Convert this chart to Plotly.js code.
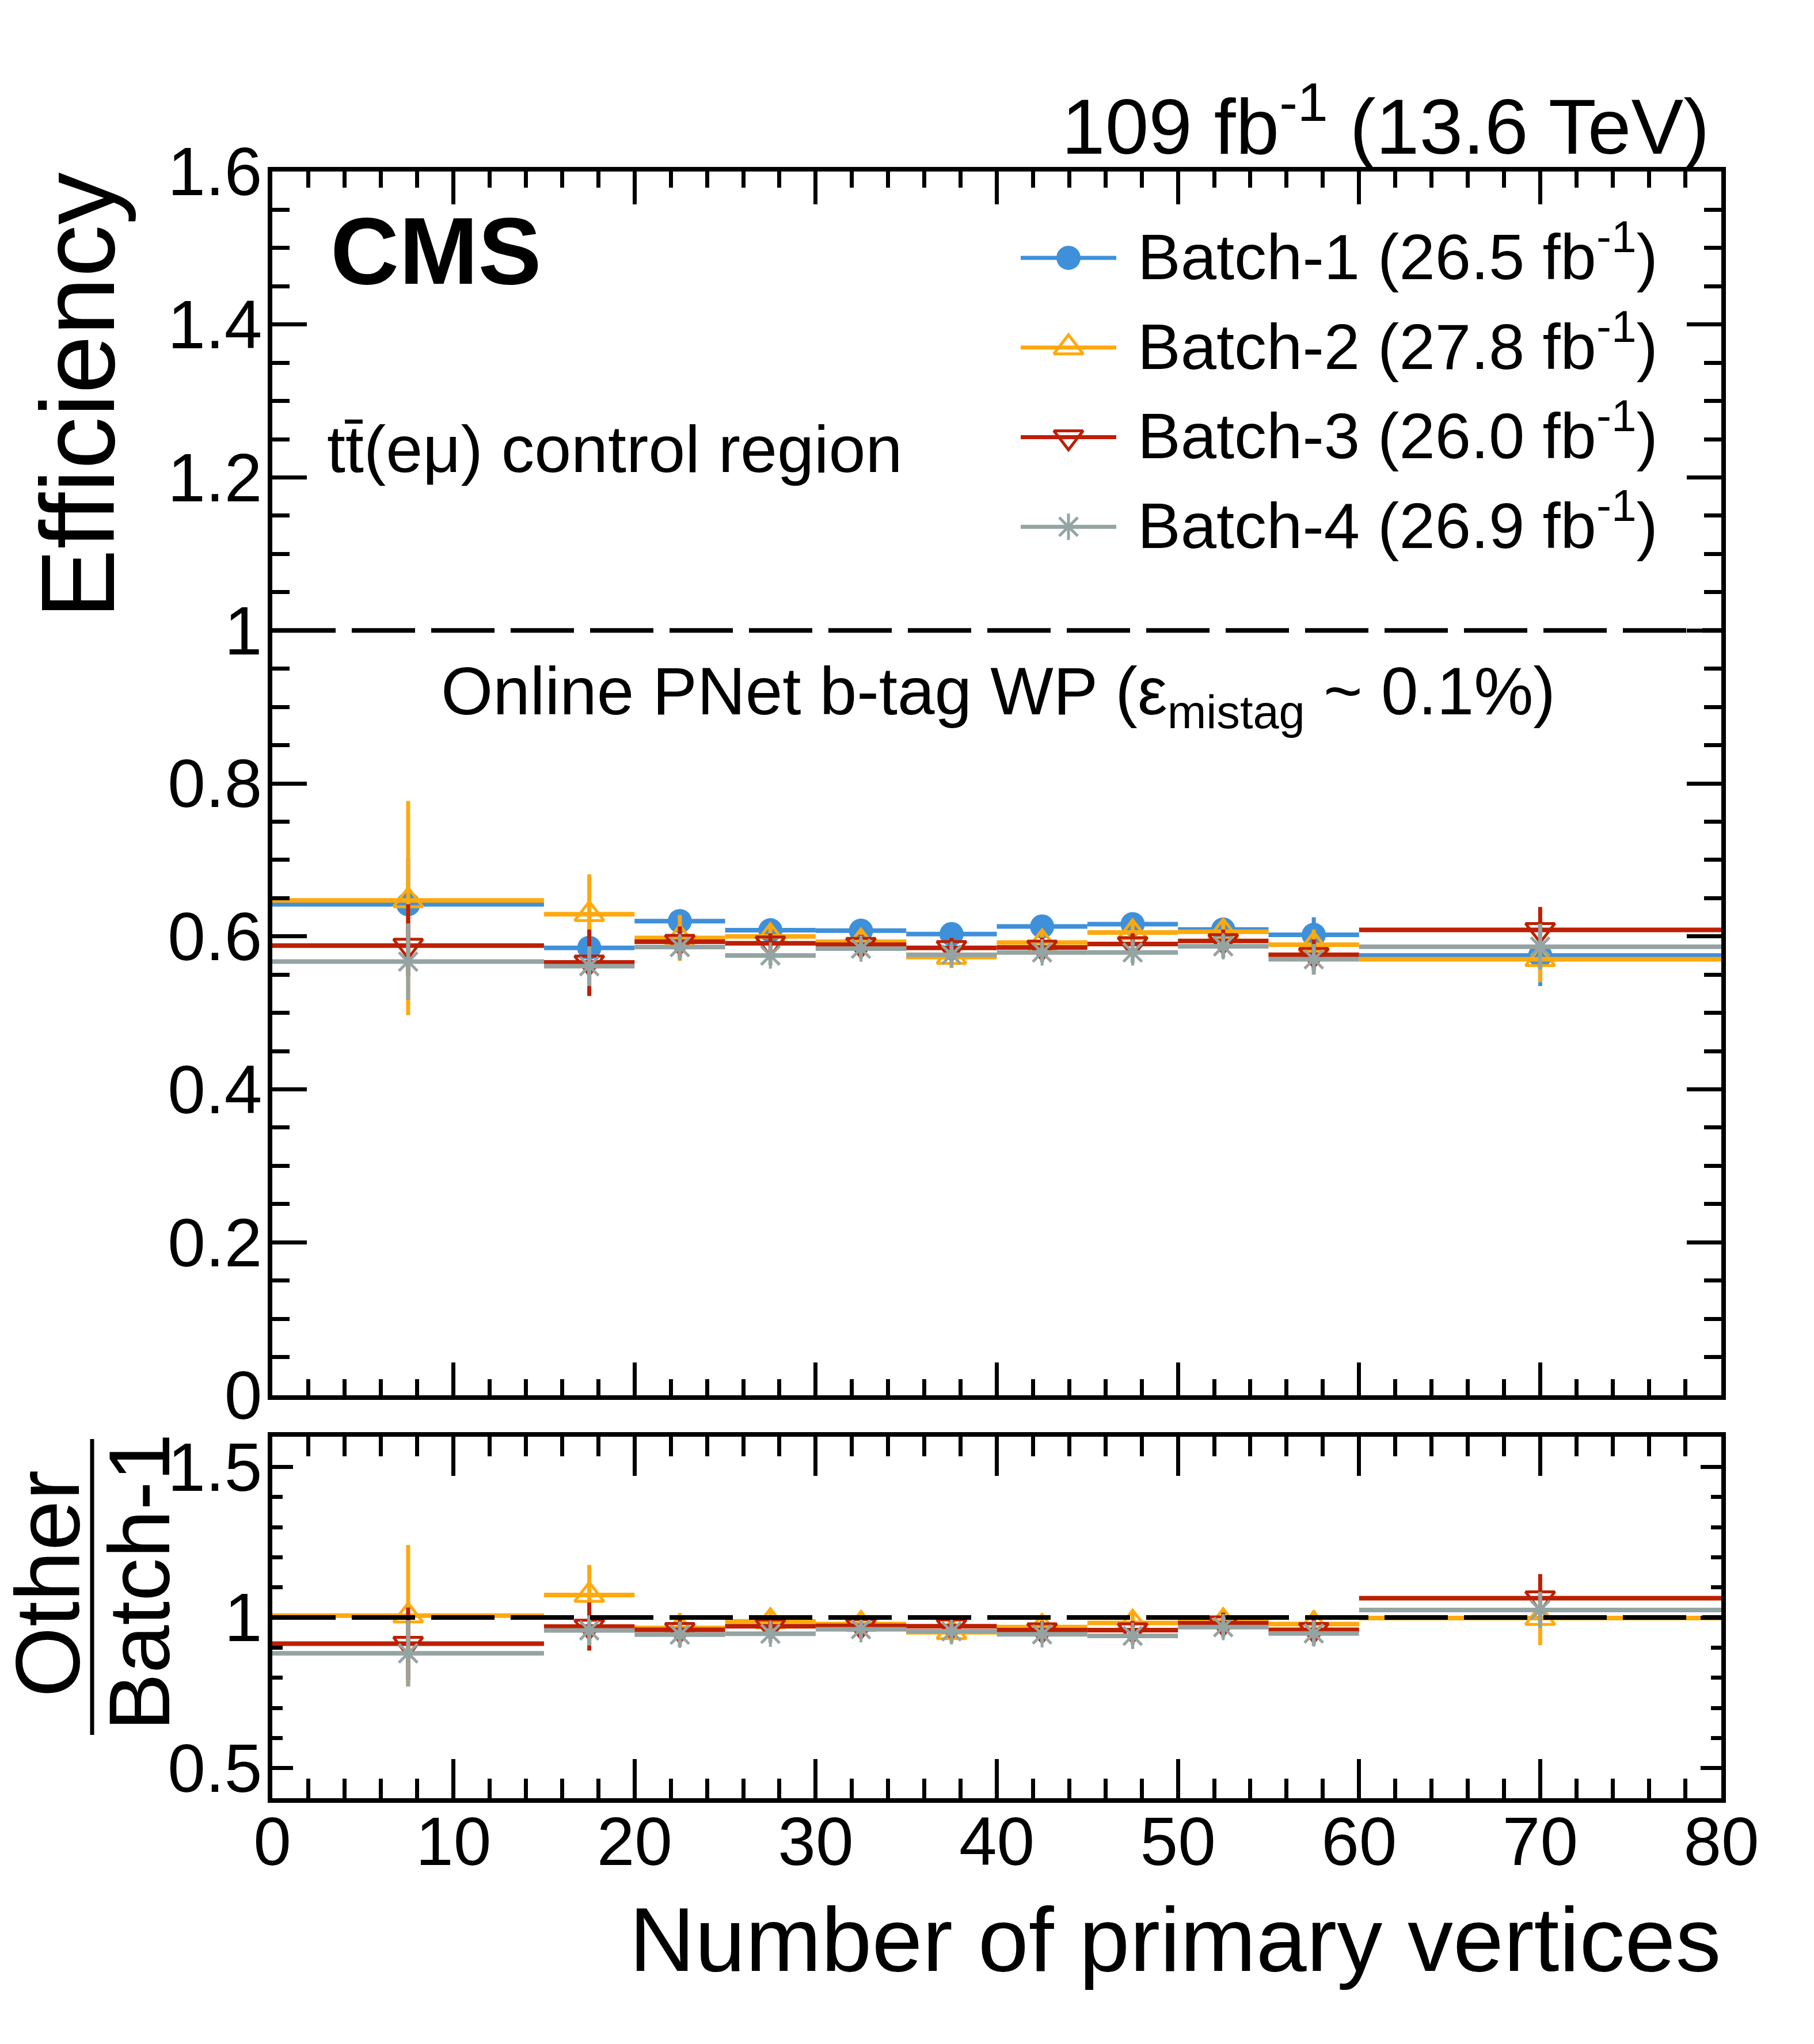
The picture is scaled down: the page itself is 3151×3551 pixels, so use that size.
<!DOCTYPE html>
<html>
<head>
<meta charset="utf-8">
<script src="https://cdn.plot.ly/plotly-3.0.1.min.js"></script>
<style>
html,body{margin:0;padding:0;background:#ffffff;}
#chart{width:3151px;height:3551px;}
</style>
</head>
<body>
<div id="chart"></div>
<script>
// ---------------- data ----------------
const binEdges = [0, 15, 20, 25, 30, 35, 40, 45, 50, 55, 60, 80];

const seriesLabels = [
  'Batch-1 (26.5 fb<sup>-1</sup>)',
  'Batch-2 (27.8 fb<sup>-1</sup>)',
  'Batch-3 (26.0 fb<sup>-1</sup>)',
  'Batch-4 (26.9 fb<sup>-1</sup>)'
];

// efficiency per bin
const effBatch1 = [0.642, 0.585, 0.620, 0.608, 0.6075, 0.603, 0.613, 0.616, 0.609, 0.602, 0.575];
const effBatch2 = [0.647, 0.629, 0.598, 0.600, 0.593, 0.573, 0.592, 0.605, 0.606, 0.589, 0.570];
const effBatch3 = [0.588, 0.566, 0.593, 0.591, 0.589, 0.585, 0.5855, 0.590, 0.594, 0.576, 0.6085];
const effBatch4 = [0.567, 0.561, 0.586, 0.575, 0.584, 0.576, 0.579, 0.579, 0.587, 0.570, 0.5865];

// efficiency uncertainties (up / down)
const errBatch1Up   = [0.060, 0.030, 0.015, 0.012, 0.012, 0.012, 0.012, 0.013, 0.014, 0.023, 0.040];
const errBatch1Down = [0.060, 0.030, 0.015, 0.012, 0.012, 0.012, 0.012, 0.013, 0.014, 0.023, 0.040];
const errBatch2Up   = [0.130, 0.052, 0.030, 0.014, 0.014, 0.014, 0.014, 0.014, 0.015, 0.020, 0.030];
const errBatch2Down = [0.150, 0.052, 0.030, 0.014, 0.014, 0.014, 0.014, 0.014, 0.015, 0.020, 0.030];
const errBatch3Up   = [0.054, 0.043, 0.020, 0.013, 0.013, 0.013, 0.013, 0.014, 0.015, 0.020, 0.030];
const errBatch3Down = [0.040, 0.044, 0.020, 0.013, 0.013, 0.013, 0.013, 0.014, 0.015, 0.020, 0.030];
const errBatch4Up   = [0.050, 0.026, 0.015, 0.013, 0.013, 0.013, 0.013, 0.014, 0.015, 0.020, 0.030];
const errBatch4Down = [0.050, 0.026, 0.015, 0.013, 0.013, 0.013, 0.013, 0.014, 0.015, 0.020, 0.030];

// ratio Other / Batch-1
const ratioBatch2 = [1.006, 1.0745, 0.965, 0.987, 0.978, 0.951, 0.968, 0.982, 0.987, 0.978, 0.998];
const ratioBatch3 = [0.913, 0.970, 0.959, 0.971, 0.972, 0.971, 0.958, 0.958, 0.981, 0.959, 1.064];
const ratioBatch4 = [0.881, 0.957, 0.943, 0.946, 0.961, 0.954, 0.944, 0.939, 0.968, 0.947, 1.025];
const ratioErrBatch2 = [0.235, 0.100, 0.050, 0.040, 0.035, 0.035, 0.035, 0.035, 0.040, 0.045, 0.090];
const ratioErrBatch3 = [0.120, 0.080, 0.040, 0.030, 0.030, 0.030, 0.030, 0.030, 0.035, 0.040, 0.080];
const ratioErrBatch4 = [0.110, 0.050, 0.040, 0.030, 0.030, 0.030, 0.030, 0.030, 0.035, 0.040, 0.060];

const xTitle = 'Number of primary vertices';
const yTitle = 'Efficiency';
const lumiText = '109 fb<sup>-1</sup> (13.6 TeV)';
const regionText = 'tt\u0304(e\u03bc) control region';
const wpText = 'Online PNet b-tag WP (\u03b5<sub>mistag</sub> ~ 0.1%)';
const referenceValue = 1;

// ---------------- styles ----------------
const FONT = 'Liberation Sans, Arial, Helvetica, sans-serif';
const colors  = ['#3f90da', '#ffa90e', '#bd1f01', '#94a4a2'];
const symbols = ['circle', 'triangle-up-open', 'triangle-down-open', 'asterisk-open'];
const msizes  = [42, 44, 44, 38];
const mlw     = [0, 5, 5, 5];

// derived bin geometry
const centers = [], halfW = [];
for (let i = 0; i < binEdges.length - 1; i++) {
  centers.push((binEdges[i] + binEdges[i + 1]) / 2);
  halfW.push((binEdges[i + 1] - binEdges[i]) / 2);
}

// pixel layout
const W = 3151, H = 3551;
const PL = 473, PR = 2990, PT = 298, PB = 3124;
const pw = PR - PL, ph = PB - PT;
const px = v => (v - PL) / pw;
const py = v => (PB - v) / ph;
const MAIN_BOTTOM = 2424, RATIO_TOP = 2496;

const effs = [effBatch1, effBatch2, effBatch3, effBatch4];
const errUp = [errBatch1Up, errBatch2Up, errBatch3Up, errBatch4Up];
const errDn = [errBatch1Down, errBatch2Down, errBatch3Down, errBatch4Down];
const ratios = [null, ratioBatch2, ratioBatch3, ratioBatch4];
const ratioErrs = [null, ratioErrBatch2, ratioErrBatch3, ratioErrBatch4];

function markerFor(i) {
  return {symbol: symbols[i], size: msizes[i], color: colors[i],
          line: {color: colors[i], width: mlw[i]}};
}

const traces = [];
for (let i = 0; i < 4; i++) {
  traces.push({
    type: 'scatter', mode: 'markers', xaxis: 'x2', yaxis: 'y',
    x: centers, y: effs[i], showlegend: false, hoverinfo: 'skip',
    error_x: {type: 'data', array: halfW, symmetric: true, thickness: 8, width: 0, color: colors[i]},
    error_y: {type: 'data', array: errUp[i], arrayminus: errDn[i], symmetric: false, thickness: 7, width: 0, color: colors[i]},
    marker: markerFor(i)
  });
}
for (let i = 1; i < 4; i++) {
  traces.push({
    type: 'scatter', mode: 'markers', xaxis: 'x', yaxis: 'y2',
    x: centers, y: ratios[i], showlegend: false, hoverinfo: 'skip',
    error_x: {type: 'data', array: halfW, symmetric: true, thickness: 8, width: 0, color: colors[i]},
    error_y: {type: 'data', array: ratioErrs[i], symmetric: true, thickness: 7, width: 0, color: colors[i]},
    marker: markerFor(i)
  });
}
// legend glyphs (line + marker) on an invisible helper axis
for (let i = 0; i < 4; i++) {
  traces.push({type: 'scatter', mode: 'lines', xaxis: 'x3', yaxis: 'y3', x: [0, 1], y: [i, i],
    line: {color: colors[i], width: 7}, showlegend: false, hoverinfo: 'skip'});
  traces.push({type: 'scatter', mode: 'markers', xaxis: 'x3', yaxis: 'y3', x: [0.5], y: [i],
    marker: markerFor(i), showlegend: false, hoverinfo: 'skip'});
}

const tickFont = {family: FONT, size: 118, color: '#000'};
const axisCommon = {
  showgrid: false, zeroline: false, showline: true, linecolor: '#000', linewidth: 8,
  mirror: 'ticks', ticks: 'inside', tickcolor: '#000', tickwidth: 7, tickfont: tickFont,
  fixedrange: true
};

const layout = {
  width: W, height: H,
  margin: {l: PL, r: W - PR, t: PT, b: H - PB, pad: 0},
  paper_bgcolor: '#fff', plot_bgcolor: 'rgba(0,0,0,0)',
  showlegend: false,
  font: {family: FONT, color: '#000'},
  xaxis: Object.assign({}, axisCommon, {
    domain: [0, 1], anchor: 'y2', range: [0, 80], tick0: 0, dtick: 10, ticklen: 68,
    ticklabelstandoff: -34,
    minor: {dtick: 2, ticklen: 34, tickwidth: 7, tickcolor: '#000', ticks: 'inside'}
  }),
  xaxis2: Object.assign({}, axisCommon, {
    domain: [0, 1], anchor: 'y', matches: 'x', range: [0, 80], tick0: 0, dtick: 10, ticklen: 57,
    showticklabels: false,
    minor: {dtick: 2, ticklen: 28, tickwidth: 7, tickcolor: '#000', ticks: 'inside'}
  }),
  yaxis: Object.assign({}, axisCommon, {
    domain: [py(MAIN_BOTTOM), 1], anchor: 'x2', range: [0, 1.6], tick0: 0, dtick: 0.2, ticklen: 60,
    ticklabelstandoff: -14,
    minor: {dtick: 0.05, ticklen: 30, tickwidth: 7, tickcolor: '#000', ticks: 'inside'}
  }),
  yaxis2: Object.assign({}, axisCommon, {
    domain: [0, py(RATIO_TOP)], anchor: 'x', range: [0.4, 1.6], tick0: 0, dtick: 0.5, ticklen: 36,
    ticklabelstandoff: -14,
    minor: {dtick: 0.1, ticklen: 18, tickwidth: 7, tickcolor: '#000', ticks: 'inside'}
  }),
  xaxis3: {domain: [px(1773), px(1939)], anchor: 'y3', range: [0, 1], visible: false, fixedrange: true},
  yaxis3: {domain: [py(993), py(370)], anchor: 'x3', range: [3.5, -0.5], visible: false, fixedrange: true},
  shapes: [
    {type: 'line', xref: 'x2', yref: 'y', x0: 0, x1: 80, y0: referenceValue, y1: referenceValue,
     line: {color: '#000', width: 8, dash: '110px,28px'}, layer: 'above'},
    {type: 'line', xref: 'x', yref: 'y2', x0: 0, x1: 80, y0: referenceValue, y1: referenceValue,
     line: {color: '#000', width: 8, dash: '110px,28px'}, layer: 'above'},
    // fraction bar of the ratio axis title
    {type: 'line', xref: 'paper', yref: 'paper', x0: px(160), x1: px(160), y0: py(2500), y1: py(3014),
     line: {color: '#000', width: 7}}
  ],
  annotations: []
};

const ann = layout.annotations;
function addText(o) {
  ann.push(Object.assign({showarrow: false, xref: 'paper', yref: 'paper', borderpad: 0,
    font: {family: FONT, size: 120, color: '#000'}}, o));
}
addText({text: lumiText, x: px(2971), y: py(222), xanchor: 'right', yanchor: 'middle', yshift: 12, font: {family: FONT, size: 136, color: '#000'}});
addText({text: '<b>CMS</b>', x: px(573), y: py(436), xanchor: 'left', yanchor: 'middle', font: {family: FONT, size: 165, color: '#000'}});
addText({text: regionText, x: px(567), y: py(780), xanchor: 'left', yanchor: 'middle', font: {family: FONT, size: 115, color: '#000'}});
addText({text: wpText, x: px(1734), y: py(1195), xanchor: 'center', yanchor: 'middle', yshift: -14, font: {family: FONT, size: 116, color: '#000'}});
for (let i = 0; i < 4; i++) {
  ann.push({text: seriesLabels[i], showarrow: false, xref: 'paper', yref: 'y3', x: px(1975), y: i,
    xanchor: 'left', yanchor: 'middle', yshift: 10, borderpad: 0,
    font: {family: FONT, size: 112, color: '#000'}});
}
addText({text: yTitle, textangle: -90, x: px(135), y: py(298), xanchor: 'center', yanchor: 'top', font: {family: FONT, size: 182, color: '#000'}});
addText({text: xTitle, x: px(2990), y: py(3369), xanchor: 'right', yanchor: 'middle', font: {family: FONT, size: 158, color: '#000'}});
addText({text: 'Other', textangle: -90, x: px(82), y: py(2752), xanchor: 'center', yanchor: 'middle', font: {family: FONT, size: 158, color: '#000'}});
addText({text: 'Batch-1', textangle: -90, x: px(242), y: py(2749), xanchor: 'center', yanchor: 'middle', font: {family: FONT, size: 150, color: '#000'}});

Plotly.newPlot('chart', traces, layout, {displayModeBar: false, staticPlot: true});
</script>
</body>
</html>
